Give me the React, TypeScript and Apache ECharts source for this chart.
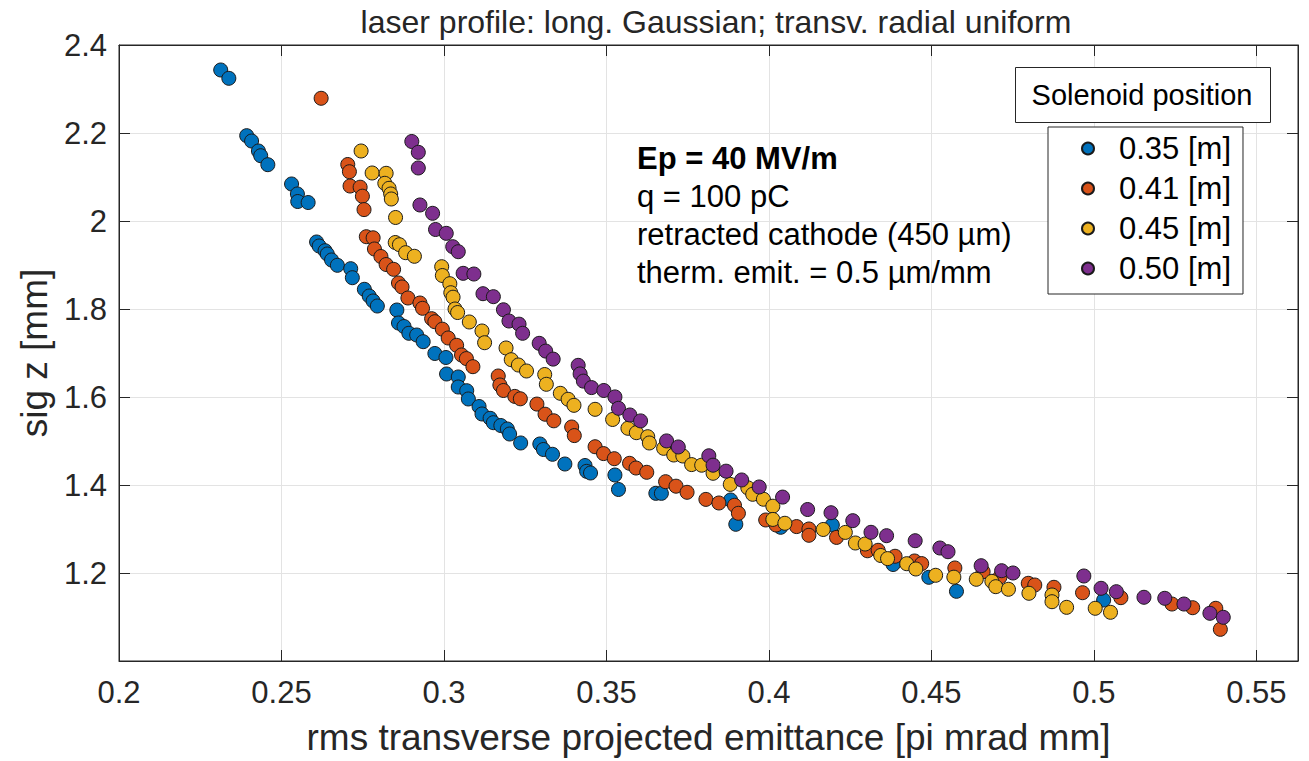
import React, { useEffect, useRef } from 'react';
import * as echarts from 'echarts';

const seriesNames = ['0.35 [m]', '0.41 [m]', '0.45 [m]', '0.50 [m]'];
const seriesColors = ['#0072BD', '#D95319', '#EDB120', '#7E2F8E'];

const xTicks = [0.2, 0.25, 0.3, 0.35, 0.4, 0.45, 0.5, 0.55];
const yTicks = [1.2, 1.4, 1.6, 1.8, 2, 2.2, 2.4];

const titleText = 'laser profile: long. Gaussian; transv. radial uniform';
const xName = 'rms transverse projected emittance [pi mrad mm]';
const yName = 'sig z [mm]';
const legendTitle = 'Solenoid position';
const noteLines = ['Ep = 40 MV/m', 'q = 100 pC', 'retracted cathode (450 µm)', 'therm. emit. = 0.5 µm/mm'];

const blue035: [number, number][] = [
  [0.2313, 2.3432], [0.2338, 2.3243], [0.2393, 2.1939], [0.2408, 2.1818], [0.2429, 2.1591], [0.2436, 2.1484],
  [0.2458, 2.128], [0.2531, 2.0841], [0.2549, 2.0614], [0.255, 2.0443], [0.2582, 2.042], [0.2608, 1.9523],
  [0.2616, 1.9432], [0.2634, 1.9325], [0.2641, 1.925], [0.2654, 1.9114], [0.2672, 1.8993], [0.2713, 1.8916],
  [0.2718, 1.8711], [0.2755, 1.8448], [0.277, 1.8295], [0.2782, 1.8182], [0.2795, 1.8068], [0.2855, 1.7977],
  [0.286, 1.7682], [0.2877, 1.7602], [0.2892, 1.7448], [0.2916, 1.7409], [0.2936, 1.7257], [0.2972, 1.6989],
  [0.3006, 1.6898], [0.3008, 1.6523], [0.3044, 1.6455], [0.3044, 1.6227], [0.307, 1.6143], [0.3075, 1.5955],
  [0.3108, 1.5784], [0.3117, 1.5614], [0.3142, 1.5516], [0.3152, 1.5416], [0.3175, 1.5352], [0.3195, 1.5273],
  [0.3202, 1.5159], [0.3236, 1.4955], [0.3295, 1.4932], [0.3306, 1.4807], [0.3334, 1.4698], [0.3372, 1.4477],
  [0.3434, 1.4443], [0.3439, 1.4311], [0.3451, 1.4273], [0.3526, 1.4227], [0.3537, 1.3898], [0.3652, 1.3811],
  [0.3669, 1.3811], [0.3882, 1.3659], [0.3898, 1.3107], [0.4036, 1.3039], [0.4195, 1.3091], [0.4382, 1.2193],
  [0.4492, 1.1902], [0.4577, 1.1584], [0.503, 1.1386],
];

const orange041: [number, number][] = [
  [0.2622, 2.2789], [0.2704, 2.1284], [0.2709, 2.112], [0.2711, 2.0795], [0.2742, 2.0768], [0.2749, 2.0564],
  [0.2754, 2.0259], [0.2761, 1.9643], [0.2782, 1.9618], [0.2786, 1.9364], [0.2806, 1.9193], [0.2822, 1.9011],
  [0.2845, 1.8902], [0.286, 1.8591], [0.2871, 1.85], [0.2889, 1.825], [0.2926, 1.8136], [0.2934, 1.8016],
  [0.2962, 1.778], [0.2972, 1.7711], [0.2995, 1.7541], [0.3013, 1.7341], [0.3039, 1.7175], [0.3054, 1.6955],
  [0.3069, 1.6873], [0.3089, 1.6689], [0.3167, 1.6477], [0.3172, 1.6273], [0.3183, 1.6148], [0.3218, 1.6014],
  [0.3235, 1.5959], [0.3286, 1.5839], [0.3311, 1.5609], [0.3338, 1.5459], [0.3393, 1.5318], [0.3401, 1.5123],
  [0.3465, 1.487], [0.3491, 1.4714], [0.3524, 1.4598], [0.3571, 1.4493], [0.3591, 1.4386], [0.3624, 1.4289],
  [0.3682, 1.4075], [0.3714, 1.3973], [0.3748, 1.3834], [0.3806, 1.3673], [0.3846, 1.3591], [0.3894, 1.3539],
  [0.3906, 1.3357], [0.399, 1.3205], [0.4022, 1.3091], [0.4085, 1.3055], [0.4123, 1.3], [0.4123, 1.2857],
  [0.4208, 1.2809], [0.4303, 1.2505], [0.4336, 1.2516], [0.4388, 1.238], [0.4448, 1.2273], [0.447, 1.2214],
  [0.4572, 1.2114], [0.4659, 1.203], [0.4711, 1.1909], [0.4798, 1.1766], [0.4818, 1.1727], [0.4877, 1.1675],
  [0.4965, 1.1552], [0.5083, 1.1439], [0.524, 1.1295], [0.5304, 1.1211], [0.5375, 1.1198], [0.5389, 1.072],
];

const yellow045: [number, number][] = [
  [0.2745, 2.1591], [0.2779, 2.1091], [0.2822, 2.1084], [0.2818, 2.0857], [0.2831, 2.0743], [0.2836, 2.0614],
  [0.2838, 2.05], [0.2851, 2.008], [0.285, 1.9511], [0.2863, 1.9461], [0.2882, 1.928], [0.2909, 1.9198],
  [0.2993, 1.8961], [0.2995, 1.8761], [0.3018, 1.8575], [0.3021, 1.837], [0.3028, 1.8268], [0.3034, 1.8],
  [0.3042, 1.792], [0.3078, 1.7705], [0.3117, 1.75], [0.3125, 1.7234], [0.3191, 1.7114], [0.3207, 1.6848],
  [0.3229, 1.6727], [0.3254, 1.6591], [0.331, 1.6511], [0.3315, 1.6289], [0.3358, 1.6084], [0.3382, 1.5948],
  [0.34, 1.5811], [0.3465, 1.572], [0.3519, 1.5489], [0.3566, 1.5289], [0.3592, 1.5189], [0.3627, 1.5098],
  [0.3632, 1.4955], [0.3676, 1.4834], [0.3707, 1.4682], [0.3735, 1.4659], [0.3762, 1.4464], [0.3793, 1.445],
  [0.3828, 1.4266], [0.3881, 1.4014], [0.3935, 1.3936], [0.395, 1.3789], [0.3983, 1.3677], [0.4012, 1.3518],
  [0.4012, 1.3218], [0.4049, 1.313], [0.4167, 1.2989], [0.4235, 1.2923], [0.4266, 1.2682], [0.4296, 1.2659],
  [0.4344, 1.2398], [0.4365, 1.2327], [0.4424, 1.2211], [0.4452, 1.2091], [0.4513, 1.1948], [0.4569, 1.1905],
  [0.4638, 1.1857], [0.4686, 1.1809], [0.4698, 1.1689], [0.4737, 1.163], [0.48, 1.1539], [0.4871, 1.15],
  [0.4871, 1.1348], [0.4916, 1.122], [0.5004, 1.1198], [0.5051, 1.1107],
];

const purple050: [number, number][] = [
  [0.2901, 2.1807], [0.2921, 2.1561], [0.2921, 2.1205], [0.2926, 2.0364], [0.2965, 2.0175], [0.2974, 1.9807],
  [0.3007, 1.972], [0.3027, 1.9416], [0.3044, 1.9302], [0.3059, 1.8811], [0.3092, 1.8795], [0.312, 1.8348],
  [0.3152, 1.828], [0.3183, 1.7982], [0.32, 1.7727], [0.3231, 1.7655], [0.3242, 1.7448], [0.3293, 1.722],
  [0.3313, 1.7043], [0.3336, 1.6861], [0.3413, 1.672], [0.3419, 1.6525], [0.3429, 1.6361], [0.3454, 1.6214],
  [0.3492, 1.6148], [0.3526, 1.6002], [0.3537, 1.5743], [0.3572, 1.5591], [0.3605, 1.5457], [0.3685, 1.5002],
  [0.3721, 1.4864], [0.3815, 1.4664], [0.3828, 1.445], [0.3868, 1.4314], [0.3916, 1.4114], [0.397, 1.3955],
  [0.4042, 1.3725], [0.4119, 1.3443], [0.4191, 1.337], [0.4258, 1.3189], [0.4314, 1.2925], [0.4362, 1.2848],
  [0.445, 1.2734], [0.4526, 1.2568], [0.4551, 1.2484], [0.4653, 1.2166], [0.4716, 1.2052], [0.4751, 1.2],
  [0.4969, 1.1932], [0.5022, 1.1652], [0.5069, 1.1575], [0.5154, 1.1448], [0.5218, 1.1425], [0.5277, 1.1295],
  [0.5357, 1.1084], [0.5398, 1.0993],
];

const allSeries = [blue035, orange041, yellow045, purple050];

const FONT = '"Liberation Sans", Arial, Helvetica, sans-serif';
const INK = '#262626';

const X_MIN = 0.2;
const X_MAX = 0.5628;
const Y_MIN = 1.0;
const Y_MAX = 2.4;

function isOnStep(v: number, step: number) {
  const r = v / step;
  return Math.abs(r - Math.round(r)) < 1e-6;
}

export default function App() {
  const ref = useRef<HTMLDivElement>(null);

  useEffect(() => {
    document.body.style.margin = '0';
    if (!ref.current) return;
    const chart = echarts.init(ref.current, undefined, { renderer: 'svg' });

    const xLabelSet = new Set(xTicks.map((v) => v.toFixed(2)));
    const yLabelSet = new Set(yTicks.map((v) => v.toFixed(1)));

    const axisCommon = {
      axisLine: { show: true, lineStyle: { color: INK, width: 1 } },
      axisTick: { show: true, inside: true, length: 11, lineStyle: { color: INK, width: 1 } },
    };

    const option: any = {
      animation: false,
      backgroundColor: '#ffffff',
      grid: {
        left: 119,
        top: 45,
        right: 11,
        bottom: 100,
        show: true,
        borderColor: INK,
        borderWidth: 1,
        backgroundColor: '#ffffff',
      },
      xAxis: [
        {
          type: 'value',
          min: X_MIN,
          max: X_MAX,
          interval: 0.05,
          position: 'bottom',
          ...axisCommon,
          axisLabel: {
            show: true,
            fontSize: 31,
            fontFamily: FONT,
            color: INK,
            margin: 16,
            formatter: (v: number) =>
              isOnStep(v, 0.05) && xLabelSet.has(v.toFixed(2)) ? String(Number(v.toFixed(2))) : '',
          },
          splitLine: { show: true, lineStyle: { color: '#e3e3e3', width: 1 } },
          name: xName,
          nameLocation: 'middle',
          nameGap: 58,
          nameTextStyle: { fontSize: 37, fontFamily: FONT, color: INK },
        },
        {
          type: 'value',
          min: X_MIN,
          max: X_MAX,
          interval: 0.05,
          position: 'top',
          ...axisCommon,
          axisLabel: { show: false },
          splitLine: { show: false },
        },
      ],
      yAxis: [
        {
          type: 'value',
          min: Y_MIN,
          max: Y_MAX,
          interval: 0.2,
          position: 'left',
          ...axisCommon,
          axisLabel: {
            show: true,
            fontSize: 31,
            fontFamily: FONT,
            color: INK,
            margin: 12,
            formatter: (v: number) =>
              isOnStep(v, 0.2) && yLabelSet.has(v.toFixed(1)) ? String(Number(v.toFixed(1))) : '',
          },
          splitLine: { show: true, lineStyle: { color: '#e3e3e3', width: 1 } },
          name: yName,
          nameLocation: 'middle',
          nameGap: 62,
          nameRotate: 90,
          nameTextStyle: { fontSize: 37, fontFamily: FONT, color: INK },
        },
        {
          type: 'value',
          min: Y_MIN,
          max: Y_MAX,
          interval: 0.2,
          position: 'right',
          ...axisCommon,
          axisLabel: { show: false },
          splitLine: { show: false },
        },
      ],
      legend: {
        orient: 'vertical',
        left: 1048,
        top: 127,
        data: seriesNames,
        icon: 'circle',
        itemWidth: 12,
        itemHeight: 12,
        itemGap: 9,
        padding: [6, 12, 10, 33],
        borderColor: INK,
        borderWidth: 1,
        backgroundColor: '#ffffff',
        textStyle: {
          fontSize: 31,
          fontFamily: FONT,
          color: '#000000',
          lineHeight: 30,
          padding: [0, 0, 0, 20],
        },
      },
      series: allSeries.map((data, i) => ({
        name: seriesNames[i],
        type: 'scatter',
        data,
        symbol: 'circle',
        symbolSize: 14,
        itemStyle: { color: seriesColors[i], borderColor: '#1a1a1a', borderWidth: 1, opacity: 1 },
        emphasis: { disabled: true },
      })),
      graphic: [
        {
          type: 'text',
          x: 716,
          y: 22,
          style: {
            text: titleText,
            fontSize: 32,
            fontFamily: FONT,
            fill: INK,
            align: 'center',
            verticalAlign: 'middle',
          },
        },
        {
          type: 'rect',
          shape: { x: 1015.5, y: 67.5, width: 255, height: 55 },
          style: { fill: '#ffffff', stroke: INK, lineWidth: 1 },
          z: 100,
        },
        {
          type: 'text',
          x: 1142,
          y: 95,
          z: 101,
          style: {
            text: legendTitle,
            fontSize: 29,
            fontFamily: FONT,
            fill: '#000000',
            align: 'center',
            verticalAlign: 'middle',
          },
        },
        ...noteLines.map((t, i) => ({
          type: 'text',
          x: 637,
          y: 158 + i * 38,
          z: 50,
          style: {
            text: t,
            fontSize: 31,
            fontWeight: i === 0 ? 'bold' : 'normal',
            fontFamily: FONT,
            fill: '#000000',
            align: 'left',
            verticalAlign: 'middle',
          },
        })),
      ],
    };

    chart.setOption(option);
    return () => {
      chart.dispose();
    };
  }, []);

  return <div ref={ref} style={{ width: 1309, height: 761 }} />;
}
